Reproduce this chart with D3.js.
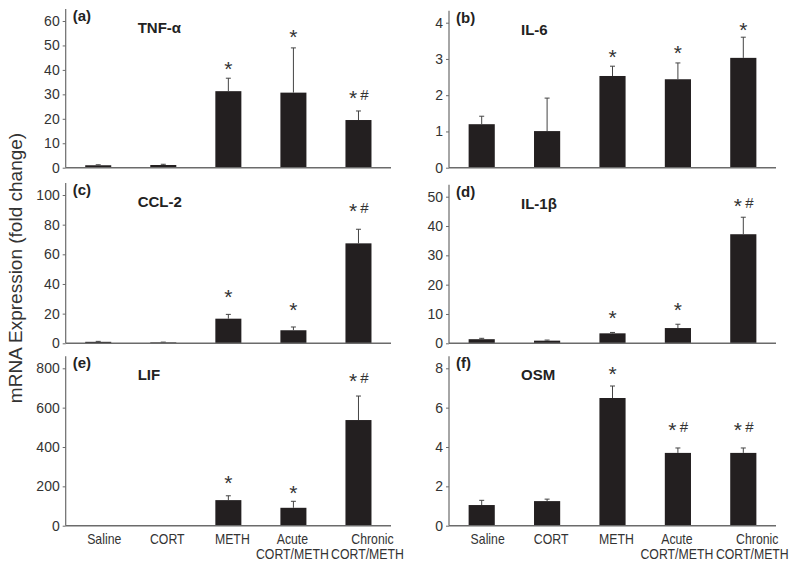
<!DOCTYPE html>
<html>
<head>
<meta charset="utf-8">
<script src="https://cdn.jsdelivr.net/npm/d3@7"></script>
<style>
  html, body { margin: 0; padding: 0; background: #fff; }
  svg text { font-family: "Liberation Sans", Arial, Helvetica, sans-serif; }
</style>
</head>
<body>
<svg id="chart" width="800" height="567"></svg>
<script>
// ---------------- DATA ----------------
const categories = ["Saline", "CORT", "METH", "Acute CORT/METH", "Chronic CORT/METH"];
const categoryLines = [["Saline"], ["CORT"], ["METH"], ["Acute", "CORT/METH"], ["Chronic", "CORT/METH"]];

const panelLetters = ["(a)", "(b)", "(c)", "(d)", "(e)", "(f)"];
const panelTitles = ["TNF-α", "IL-6", "CCL-2", "IL-1β", "LIF", "OSM"];

// mean fold change
const tnfMeans  = [1.0, 1.1, 31.3, 30.7, 19.5];
const il6Means  = [1.2, 1.01, 2.53, 2.44, 3.03];
const ccl2Means = [1.0, 0.6, 16.6, 8.8, 67.4];
const il1bMeans = [1.4, 0.9, 3.4, 5.2, 37.2];
const lifMeans  = [1.0, 1.0, 130, 91, 537];
const osmMeans  = [1.05, 1.25, 6.49, 3.7, 3.7];

// upper end of error bar (mean + SEM)
const tnfErrTop  = [1.2, 1.4, 36.6, 49.0, 23.2];
const il6ErrTop  = [1.42, 1.92, 2.8, 2.89, 3.6];
const ccl2ErrTop = [1.3, 0.8, 19.5, 11.0, 76.9];
const il1bErrTop = [1.7, 1.1, 3.7, 6.5, 43.0];
const lifErrTop  = [1.0, 1.0, 152, 124, 659];
const osmErrTop  = [1.29, 1.35, 7.1, 3.95, 3.95];

// y-axis ticks
const tnfTicks  = [0, 10, 20, 30, 40, 50, 60];
const il6Ticks  = [0, 1, 2, 3, 4];
const ccl2Ticks = [0, 20, 40, 60, 80, 100];
const il1bTicks = [0, 10, 20, 30, 40, 50];
const lifTicks  = [0, 200, 400, 600, 800];
const osmTicks  = [0, 2, 4, 6, 8];

// significance marks and their heights (data units)
const tnfSig  = ["", "", "*", "*", "*#"];
const il6Sig  = ["", "", "*", "*", "*"];
const ccl2Sig = ["", "", "*", "*", "*#"];
const il1bSig = ["", "", "*", "*", "*#"];
const lifSig  = ["", "", "*", "*", "*#"];
const osmSig  = ["", "", "*", "*#", "*#"];

const tnfSigAt  = [0, 0, 42.4, 55.5, 30.6];
const il6SigAt  = [0, 0, 3.19, 3.30, 3.94];
const ccl2SigAt = [0, 0, 34.8, 25.8, 92.6];
const il1bSigAt = [0, 0, 10.4, 13.1, 48.6];
const lifSigAt  = [0, 0, 241, 193, 763];
const osmSigAt  = [0, 0, 7.95, 5.12, 5.12];

const yTitle = "mRNA Expression (fold change)";

const panelData = [
  { means: tnfMeans,  err: tnfErrTop,  ticks: tnfTicks,  sig: tnfSig,  sigAt: tnfSigAt },
  { means: il6Means,  err: il6ErrTop,  ticks: il6Ticks,  sig: il6Sig,  sigAt: il6SigAt },
  { means: ccl2Means, err: ccl2ErrTop, ticks: ccl2Ticks, sig: ccl2Sig, sigAt: ccl2SigAt },
  { means: il1bMeans, err: il1bErrTop, ticks: il1bTicks, sig: il1bSig, sigAt: il1bSigAt },
  { means: lifMeans,  err: lifErrTop,  ticks: lifTicks,  sig: lifSig,  sigAt: lifSigAt },
  { means: osmMeans,  err: osmErrTop,  ticks: osmTicks,  sig: osmSig,  sigAt: osmSigAt }
];

// ---------------- LAYOUT ----------------
const svg = d3.select("#chart");
const colLeft  = [65.7, 449];
const colRight = [391, 776];
const rowZero  = [167.7, 343.3, 525.7];
const topTickY = [21, 22.7, 195, 196.7, 368.3, 368.3];
const labelShift = [6, 4, 4, -1, 9];

const barColor = "#231f20";
const axisColor = "#6b6b6b";
const textColor = "#333";

panelData.forEach((p, i) => {
  const col = i % 2, row = Math.floor(i / 2);
  const x0 = colLeft[col], x1 = colRight[col];
  const y0 = rowZero[row], yT = topTickY[i];
  const tMax = p.ticks[p.ticks.length - 1];

  const x = d3.scaleBand().domain(categories).range([x0, x1])
    .paddingInner(0.6).paddingOuter(0.3);
  const y = d3.scaleLinear().domain([0, tMax]).range([y0, yT]);

  const g = svg.append("g");

  // bars
  g.selectAll("rect.bar").data(categories).join("rect")
    .attr("class", "bar")
    .attr("x", d => x(d))
    .attr("width", x.bandwidth())
    .attr("y", (d, j) => y(p.means[j]))
    .attr("height", (d, j) => Math.max(0, y0 - y(p.means[j])))
    .attr("fill", barColor);

  // error bars (upper only)
  categories.forEach((c, j) => {
    if (!(p.err[j] > p.means[j])) return;
    const cx = x(c) + x.bandwidth() / 2;
    g.append("line").attr("x1", cx).attr("x2", cx)
      .attr("y1", y(p.means[j])).attr("y2", y(p.err[j]))
      .attr("stroke", "#444").attr("stroke-width", 1);
    g.append("line").attr("x1", cx - 2.5).attr("x2", cx + 2.5)
      .attr("y1", y(p.err[j])).attr("y2", y(p.err[j]))
      .attr("stroke", "#444").attr("stroke-width", 1);
  });

  // significance marks
  categories.forEach((c, j) => {
    const s = p.sig[j];
    if (!s) return;
    const cx = x(c) + x.bandwidth() / 2;
    const cy = y(p.sigAt[j]);
    const hasHash = s.indexOf("#") >= 0;
    g.append("text")
      .attr("x", hasHash ? cx - 5.5 : cx)
      .attr("y", cy + 12)
      .attr("text-anchor", "middle")
      .attr("font-size", 21)
      .attr("fill", textColor)
      .text("*");
    if (hasHash) {
      g.append("text")
        .attr("x", cx + 6)
        .attr("y", cy + 7)
        .attr("text-anchor", "middle")
        .attr("font-size", 15)
        .attr("fill", textColor)
        .text("#");
    }
  });

  // y axis
  const yAxis = d3.axisLeft(y).tickValues(p.ticks).tickSize(3).tickPadding(3)
    .tickFormat(d3.format("d"));
  const ga = g.append("g").attr("transform", `translate(${x0},0)`).call(yAxis);
  ga.select(".domain").remove();
  ga.selectAll(".tick line").attr("stroke", axisColor);
  ga.selectAll(".tick text").attr("font-size", 14).attr("fill", textColor)
    .attr("font-family", '"Liberation Sans", Arial, sans-serif');
  g.append("line").attr("x1", x0).attr("x2", x0)
    .attr("y1", y0).attr("y2", yT - 12)
    .attr("stroke", axisColor).attr("stroke-width", 1.2);
  // x axis baseline
  g.append("line").attr("x1", x0).attr("x2", x1)
    .attr("y1", y0).attr("y2", y0)
    .attr("stroke", axisColor).attr("stroke-width", 1.6);

  // panel letter & title
  g.append("text").attr("x", x0 + 7).attr("y", yT + 0)
    .attr("font-size", 15).attr("font-weight", "bold").attr("fill", "#222")
    .text(panelLetters[i]);
  g.append("text").attr("x", x0 + 72).attr("y", yT + 12)
    .attr("font-size", 15).attr("font-weight", "bold").attr("fill", "#222")
    .text(panelTitles[i]);

  // x labels on bottom row
  if (row === 2) {
    categories.forEach((c, j) => {
      const cx = x(c) + x.bandwidth() / 2 + labelShift[j];
      categoryLines[j].forEach((ln, k) => {
        g.append("text")
          .attr("transform", `translate(${cx + (j === 4 && k === 0 ? 5 : 0)},${544 + k * 14.5}) scale(1,1.12)`)
          .attr("text-anchor", "middle")
          .attr("font-size", 12.3).attr("fill", textColor)
          .text(ln);
      });
    });
  }
});

// y title
svg.append("text")
  .attr("transform", "translate(22,268) rotate(-90)")
  .attr("text-anchor", "middle")
  .attr("font-size", 19)
  .attr("fill", textColor)
  .text(yTitle);
</script>
</body>
</html>
